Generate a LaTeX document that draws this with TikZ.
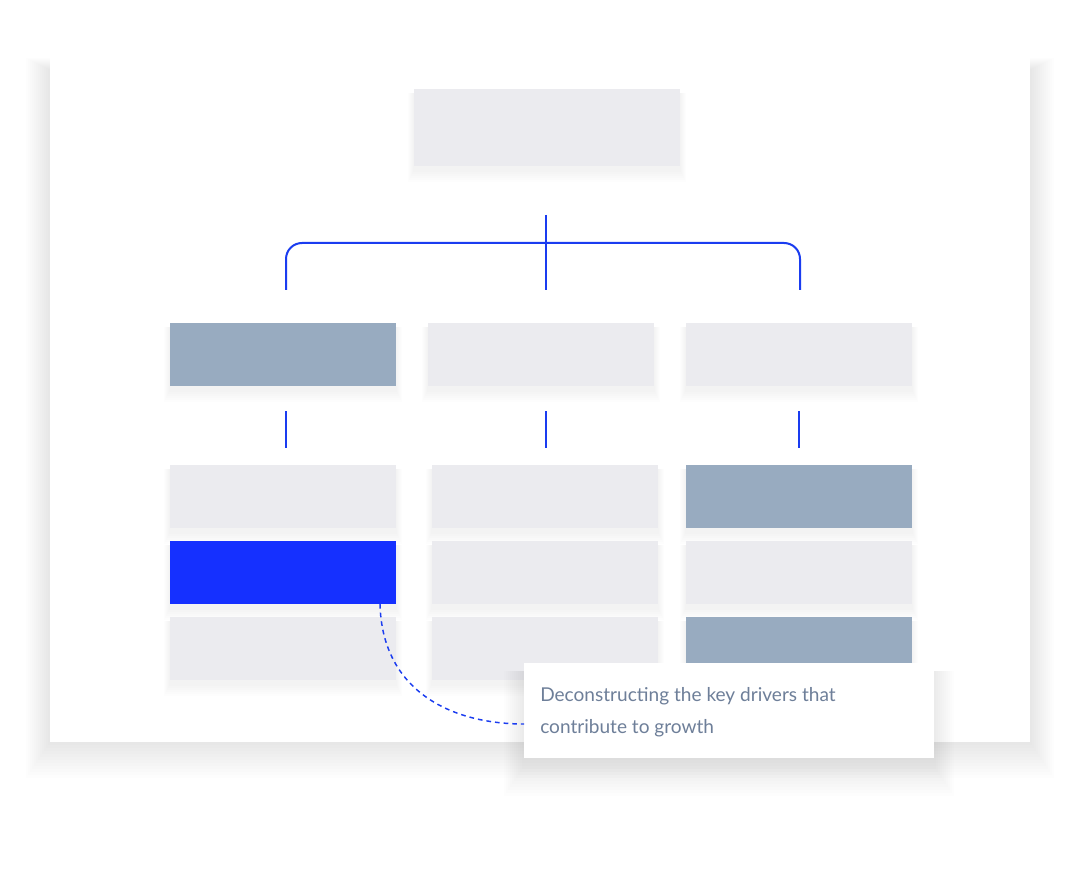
\documentclass[tikz,border=0pt]{standalone}
\usepackage{fontspec}
\setmainfont{Lato}
\definecolor{boxg}{HTML}{EBEBEF}
\definecolor{boxb}{HTML}{98ABC0}
\definecolor{hot}{HTML}{1530FF}
\definecolor{line}{HTML}{1A3CF0}
\definecolor{txt}{HTML}{6E7F99}
\begin{document}
\begin{tikzpicture}[x=0.75pt,y=-0.75pt,
  cell/.style={draw=none,fill=boxg},
  conn/.style={line, line width=1.5pt}]
\useasboundingbox (0,0) rectangle (1080,887);
\fill[white] (0,0) rectangle (1080,887);
% panel shadow
\foreach \i in {1,...,12}{
  \fill[black,opacity=0.006] (50-2*\i,40-\i+30) rectangle (1030+2*\i,742+3*\i);
}
\fill[white] (50,40) rectangle (1030,742);
% box shadows
\foreach \a/\b/\c/\d in {414/89/680/166,170/323/396/386,428/323/654/386,686/323/912/386,170/465/396/528,432/465/658/528,686/465/912/528,170/541/396/604,432/541/658/604,686/541/912/604,170/617/396/680,432/617/658/680,686/617/912/680}{
  \foreach \i in {1,...,6}{\fill[black,opacity=0.008] (\a-\i,\b+4) rectangle (\c+\i,\d+2*\i+4);}
}
\fill[cell] (414,89) rectangle (680,166) coordinate (topbr);
\node[coordinate] (top) at (546,215) {};
\node[coordinate] (t1) at (286,290) {};
\node[coordinate] (t2) at (546,290) {};
\node[coordinate] (t3) at (800,290) {};
\draw[conn] (top) -- (t2);
\draw[conn,rounded corners=12] (t1) -- (286,243) -- (800,243) -- (t3);
\fill[boxb] (170,323) rectangle (396,386);
\fill[cell] (428,323) rectangle (654,386);
\fill[cell] (686,323) rectangle (912,386);
\foreach \x in {286,546,799}{\draw[conn] (\x,411) -- (\x,448);}
\fill[cell] (170,465) rectangle (396,528);
\fill[cell] (432,465) rectangle (658,528);
\fill[boxb] (686,465) rectangle (912,528);
\fill[hot] (170,541) rectangle (396,604);
\fill[cell] (432,541) rectangle (658,604);
\fill[cell] (686,541) rectangle (912,604);
\fill[cell] (170,617) rectangle (396,680);
\fill[cell] (432,617) rectangle (658,680);
\fill[boxb] (686,617) rectangle (912,680);
% callout
\foreach \i in {1,...,10}{\fill[black,opacity=0.007] (524-2*\i,663+8) rectangle (934+2*\i,758+3*\i+8);}
\node[fill=white,minimum width=307.5pt,minimum height=71.25pt,inner sep=0pt] (call) at (729,710.5) {};
\node[anchor=west,text=txt,font=\fontsize{14.3pt}{24pt}\selectfont,align=left,inner sep=0pt] (ct) at (540,712) {Deconstructing the key drivers that\\contribute to growth};
\node[coordinate] (hs) at (380,604) {};
\node[coordinate] (ce) at (524,724) {};
\draw[conn,line width=1.1pt,dashed,dash pattern=on 3.5pt off 3pt] (hs) .. controls (382,690) and (450,724) .. (ce);
\end{tikzpicture}
\end{document}
